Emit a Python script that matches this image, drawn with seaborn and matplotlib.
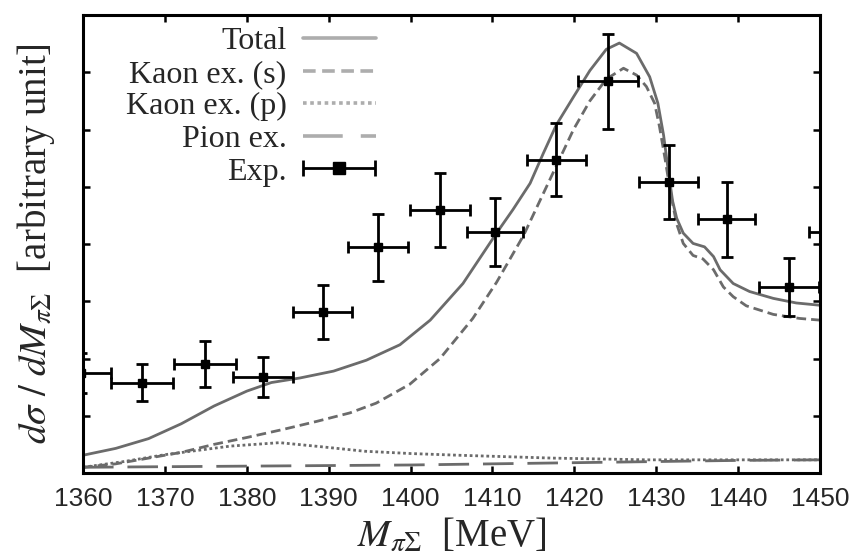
import numpy as np
import pandas as pd
import matplotlib
matplotlib.use("Agg")
import matplotlib.pyplot as plt
import seaborn as sns
from matplotlib.lines import Line2D
from matplotlib.container import ErrorbarContainer
from matplotlib.legend_handler import HandlerErrorbar

# ---------------- data ----------------
tot_x = [1360, 1364, 1368, 1372, 1376, 1380, 1383, 1386.5, 1390.6, 1394.6, 1398.7,
         1402.4, 1406.4, 1410.5, 1412.5, 1414.6, 1416.2, 1417.8, 1419.9, 1421.9,
         1423.9, 1425.5, 1427.6, 1429.2, 1430.2, 1430.9, 1431.5, 1432.0, 1432.5,
         1433.3, 1434.5, 1435.9, 1437.0, 1437.8, 1439.4, 1441.4, 1444.3, 1447.1, 1450]
tot_y = [0.31, 0.43, 0.60, 0.86, 1.17, 1.43, 1.58, 1.66, 1.78, 1.97, 2.24,
         2.67, 3.31, 4.19, 4.60, 5.06, 5.58, 6.08, 6.57, 7.03,
         7.40, 7.51, 7.33, 6.92, 6.46, 5.90, 5.25, 4.75, 4.45,
         4.19, 4.01, 3.95, 3.78, 3.55, 3.31, 3.17, 3.05, 2.97, 2.93]

ks_x = [1360, 1364, 1368, 1372, 1376, 1380, 1384.4, 1388.5, 1392.6, 1395.8, 1399.9,
        1403.6, 1407.6, 1410.5, 1413.8, 1416.6, 1419.9, 1421.9, 1423.9, 1426.0,
        1427.6, 1428.8, 1429.8, 1430.4, 1431.1, 1431.8, 1432.5, 1433.3, 1434.5,
        1435.7, 1437.0, 1438.2, 1439.4, 1441.0, 1444.3, 1447.5, 1450]
ks_y = [0.10, 0.16, 0.26, 0.36, 0.50, 0.62, 0.76, 0.90, 1.05, 1.22, 1.55,
        2.00, 2.70, 3.33, 4.15, 5.00, 6.00, 6.50, 6.88, 7.07,
        6.95, 6.75, 6.46, 6.05, 5.47, 4.85, 4.35, 4.01, 3.80,
        3.74, 3.55, 3.25, 3.08, 2.92, 2.77, 2.70, 2.67]

kp_x = [1360, 1365, 1370, 1378, 1384, 1389, 1394.4, 1400, 1405.9, 1417.4, 1428.9, 1440, 1450]
kp_y = [0.10, 0.20, 0.32, 0.47, 0.53, 0.46, 0.38, 0.34, 0.31, 0.26, 0.23, 0.23, 0.23]

pi_x = [1360, 1370, 1380, 1390, 1400, 1410, 1420, 1430, 1440, 1450]
pi_y = [0.10, 0.11, 0.12, 0.13, 0.14, 0.16, 0.18, 0.20, 0.22, 0.23]

exp_x = [1359.7, 1367.2, 1374.9, 1382.0, 1389.3, 1396.0, 1403.6, 1410.3, 1417.8,
         1424.1, 1431.5, 1438.6, 1446.2, 1452.2]
exp_y = [1.74, 1.58, 1.90, 1.67, 2.81, 3.94, 4.59, 4.21, 5.47,
         6.84, 5.08, 4.43, 3.25, 4.21]
exp_yerr = [0.35, 0.33, 0.40, 0.35, 0.47, 0.59, 0.65, 0.60, 0.64,
            0.83, 0.65, 0.65, 0.51, 0.55]
exp_xerr = [3.7, 3.8, 3.8, 3.7, 3.6, 3.7, 3.7, 3.4, 3.6,
            3.7, 3.6, 3.5, 3.7, 3.6]

legend_labels = ["Total", "Kaon ex. (s)", "Kaon ex. (p)", "Pion ex.", "Exp."]
xticks = [1360, 1370, 1380, 1390, 1400, 1410, 1420, 1430, 1440, 1450]
yticks = [1, 2, 3, 4, 5, 6, 7]

# ---------------- style ----------------
sns.set_theme(style="ticks")
plt.rcParams["font.family"] = ["Liberation Serif", "DejaVu Serif"]
plt.rcParams["mathtext.fontset"] = "stix"

fig = plt.figure(figsize=(8.57, 5.56), dpi=100)
ax = fig.add_axes([83 / 857, 1 - 473 / 556, (820 - 83) / 857, (473 - 15) / 556])

curve_col = "0.42"
styles = {
    "Total": "-",
    "Kaon ex. (s)": (0, (3.5, 1.8)),
    "Kaon ex. (p)": (0, (1.0, 1.0)),
    "Pion ex.": (0, (11, 5)),
}
curves = [(tot_x, tot_y, "Total"), (ks_x, ks_y, "Kaon ex. (s)"),
          (kp_x, kp_y, "Kaon ex. (p)"), (pi_x, pi_y, "Pion ex.")]
for cx, cy, name in curves:
    df = pd.DataFrame({"x": cx, "y": cy})
    sns.lineplot(data=df, x="x", y="y", ax=ax, color=curve_col, lw=2.0,
                 linestyle=styles[name], sort=True, estimator=None)

ax.errorbar(exp_x, exp_y, xerr=exp_xerr, yerr=exp_yerr, fmt="s", color="black",
            ms=6, elinewidth=2.0, capsize=4.5, capthick=2.0, clip_on=True, zorder=5)

# legend proxies
handles = []
for name in legend_labels[:4]:
    handles.append(Line2D([], [], color="0.68", lw=2.6, linestyle=styles[name]))
eb = ax.errorbar([np.nan], [np.nan], xerr=[1.0], fmt="s", color="black", ms=8,
                 elinewidth=2.0, capsize=6, capthick=2.0)
handles.append(eb)
leg = ax.legend(handles, legend_labels, loc="upper right",
                bbox_to_anchor=(376 / 857, 1 - 27 / 556), bbox_transform=fig.transFigure,
                frameon=False, markerfirst=False, fontsize=23, handlelength=2.3,
                handletextpad=0.5, labelspacing=0.1, borderpad=0, borderaxespad=0,
                handler_map={ErrorbarContainer: HandlerErrorbar(xerr_size=1.12)})

ax.set_xlim(1360, 1450)
ax.set_ylim(0, 8.0)
ax.set_xticks(xticks)
ax.set_xticklabels([str(t) for t in xticks], family="Liberation Sans", fontsize=19)
ax.set_yticks(yticks)
ax.set_yticklabels([])
ax.tick_params(axis="both", which="both", direction="in", length=5, width=1.8,
               top=True, right=True, color="black")
ax.tick_params(axis="x", pad=10)
for sp in ax.spines.values():
    sp.set_linewidth(2.2)
    sp.set_color("black")

ax.set_xlabel(r"$M_{\pi\Sigma}$  [MeV]", fontsize=28, labelpad=5)
ax.set_ylabel(r"$d\sigma\ /\ dM_{\pi\Sigma}$  [arbitrary unit]", fontsize=28, labelpad=15)

fig.savefig("out.png", dpi=100)
